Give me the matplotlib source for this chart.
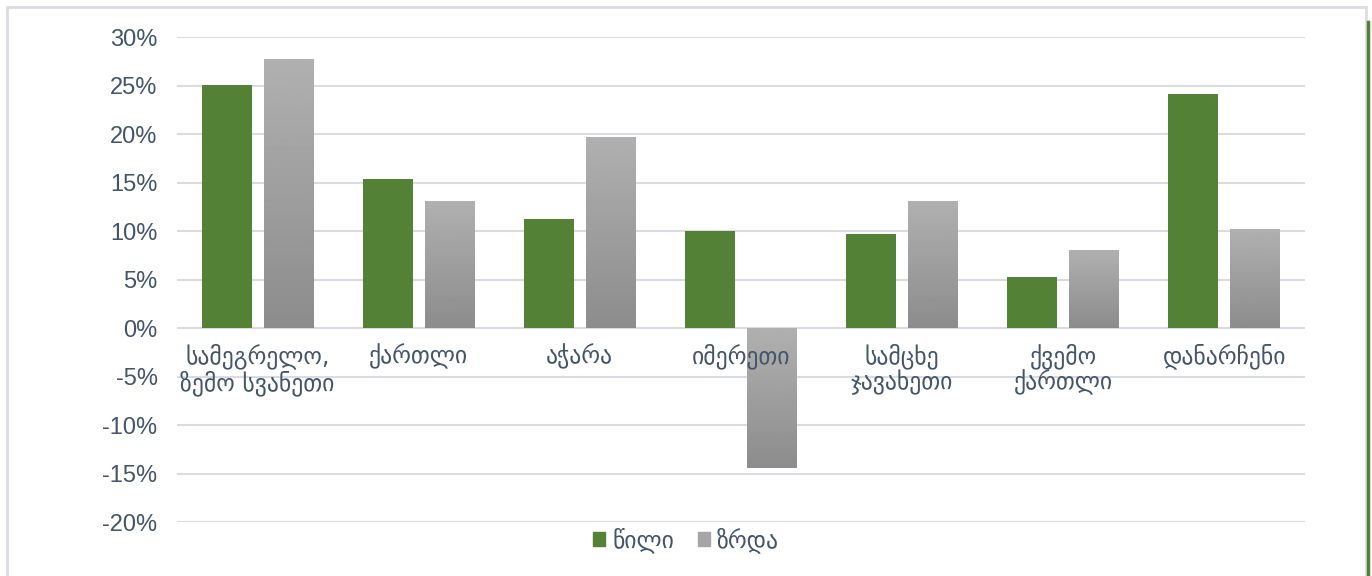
import numpy as np
import matplotlib.pyplot as plt
from matplotlib.patches import Rectangle
from matplotlib.lines import Line2D

regions = ['სამეგრელო,\nზემო სვანეთი', 'ქართლი', 'აჭარა', 'იმერეთი',
           'სამცხე\nჯავახეთი', 'ქვემო\nქართლი', 'დანარჩენი']
wili = [25.1, 15.4, 11.2, 10.0, 9.7, 5.3, 24.1]
zrda = [27.7, 13.0, 19.6, -14.4, 13.0, 8.0, 10.2]
legend_labels = ['წილი', 'ზრდა']
yticks = [30, 25, 20, 15, 10, 5, 0, -5, -10, -15, -20]

text_col = '#44546A'
green = '#538135'
grid_col = '#D9DDE3'
num_font = ['Liberation Sans Narrow', 'Liberation Sans', 'DejaVu Sans']
geo_font = ['DejaVu Sans']

fig = plt.figure(figsize=(13.72, 5.76), dpi=100)
ax = fig.add_axes([0.129, 0.0937, 0.822, 0.842])

x = np.arange(len(regions))
w = 0.31
gap = 0.075
ax.bar(x - (w + gap) / 2, wili, width=w, color=green, zorder=3)

# gray bars with a vertical gradient, lighter at top
for xi, v in zip(x, zrda):
    x0 = xi + gap / 2
    ax.imshow(np.linspace(0.69, 0.55, 256).reshape(-1, 1), cmap='gray', vmin=0, vmax=1,
              extent=[x0, x0 + w, min(0, v), max(0, v)], origin='upper',
              aspect='auto', zorder=3)

ax.set_xlim(-0.5, len(regions) - 0.5)
ax.set_ylim(-20, 30)
ax.set_yticks(yticks)
ax.set_yticklabels([f'{t}%' for t in yticks], family=num_font, fontsize=17, color=text_col)
ax.tick_params(axis='y', length=0, pad=14)
ax.set_xticks([])
ax.grid(axis='y', color=grid_col, linewidth=1.5, zorder=0)
for s in ax.spines.values():
    s.set_visible(False)

for xi, lab in zip(x, regions):
    ax.annotate(lab, (xi, 0), xytext=(0, -11), textcoords='offset points',
                ha='center', va='top', multialignment='center',
                family=geo_font, fontsize=17, color=text_col, linespacing=1.05, zorder=4)

handles = [Rectangle((0, 0), 1, 1, color=green), Rectangle((0, 0), 1, 1, color='#A6A6A6')]
fig.legend(handles, legend_labels, loc='center', bbox_to_anchor=(0.5, 0.062), ncol=2,
           frameon=False, prop={'family': geo_font, 'size': 17}, labelcolor=text_col,
           handlelength=0.5, handleheight=0.5, handletextpad=0.3, columnspacing=1.0)

fig.patches.append(Rectangle((7 / 1372, -0.01), 1359 / 1372, 1 - 7 / 576 + 0.01,
                             transform=fig.transFigure, fill=False,
                             edgecolor=grid_col, linewidth=2))
fig.lines.append(Line2D([1368 / 1372] * 2, [0, 1 - 22 / 576], transform=fig.transFigure,
                        color=green, linewidth=2.5))

fig.savefig('out.png', dpi=100)
